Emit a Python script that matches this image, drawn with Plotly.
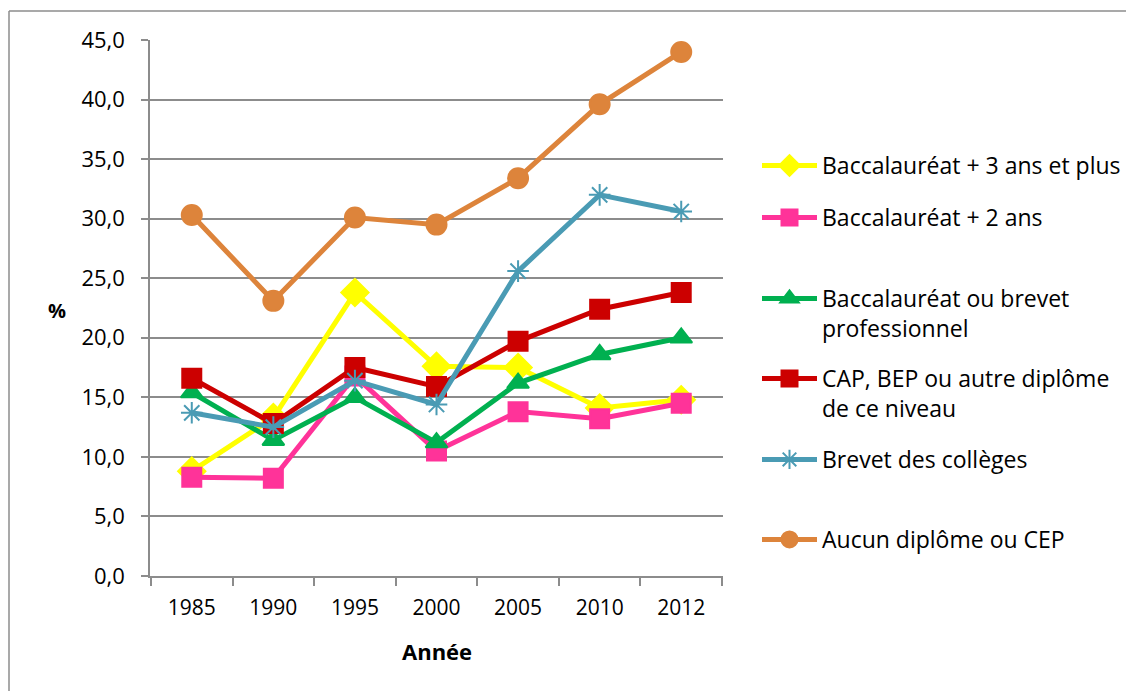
import plotly.graph_objects as go

annees = ["1985", "1990", "1995", "2000", "2005", "2010", "2012"]

bac3 = [8.8, 13.3, 23.8, 17.6, 17.5, 14.1, 14.8]
bac2 = [8.3, 8.2, 16.8, 10.5, 13.8, 13.2, 14.5]
bac_pro = [15.4, 11.4, 15.0, 11.2, 16.2, 18.6, 20.0]
cap_bep = [16.6, 12.8, 17.5, 15.9, 19.7, 22.4, 23.8]
brevet = [13.7, 12.5, 16.4, 14.4, 25.6, 32.0, 30.6]
aucun = [30.3, 23.1, 30.1, 29.5, 33.4, 39.6, 44.0]

noms = [
    "Baccalauréat + 3 ans et plus",
    "Baccalauréat + 2 ans",
    "Baccalauréat ou brevet<br>professionnel",
    "CAP, BEP ou autre diplôme<br>de ce niveau",
    "Brevet des collèges",
    "Aucun diplôme ou CEP",
]
series = [bac3, bac2, bac_pro, cap_bep, brevet, aucun]
couleurs = ["#FFFF00", "#FF3399", "#00B050", "#CC0000", "#4A9BB4", "#DD843B"]
symboles = ["diamond", "square", "triangle-up", "square", "asterisk-open", "circle"]
tailles = [21, 19, 19, 19, 18, 20]

# page offset (body margin 8px) : plot area 150..723 x 40..576 in the page
L, T = 142, 32
W, H = 1126, 683
PW, PH = 573, 536


def px_x(p):
    return (p - 150) / PW


def px_y(p):
    return (576 - p) / PH


# premier trait de chaque entrée de légende (y en pixels page)
legende_y = [166, 218, 299, 379, 460, 540]

fig = go.Figure()

for i, (nom, vals, c, s, t) in enumerate(zip(noms, series, couleurs, symboles, tailles)):
    fig.add_trace(go.Scatter(
        x=annees,
        y=vals,
        mode="lines+markers",
        name=nom,
        legend="legend" if i == 0 else f"legend{i + 1}",
        line=dict(color=c, width=5),
        marker=dict(symbol=s, size=t, color=c, line=dict(color=c, width=2)),
    ))

# cadre du graphique (haut et gauche visibles)
x0 = px_x(9)
y_top = px_y(11)
y_bot = px_y(700)
fig.add_shape(type="line", xref="paper", yref="paper", x0=x0, x1=2, y0=y_top, y1=y_top,
              line=dict(color="#8C8C8C", width=1.5))
fig.add_shape(type="line", xref="paper", yref="paper", x0=x0, x1=x0, y0=y_bot, y1=y_top,
              line=dict(color="#8C8C8C", width=1.5))

fig.add_annotation(text="<b>%</b>", xref="paper", yref="paper",
                   x=px_x(57), y=px_y(310), xanchor="center", yanchor="middle",
                   showarrow=False, font=dict(size=20, color="black"))
fig.add_annotation(text="<b>Année</b>", xref="paper", yref="paper",
                   x=0.5, y=px_y(651), xanchor="center", yanchor="middle",
                   showarrow=False, font=dict(size=22, color="black"))

legendes = {}
for i, yl in enumerate(legende_y):
    key = "legend" if i == 0 else f"legend{i + 1}"
    legendes[key] = dict(
        x=px_x(757), y=px_y(yl - 22), xanchor="left", yanchor="top",
        valign="top",
        itemwidth=55,
        bgcolor="rgba(0,0,0,0)",
        font=dict(size=23),
    )

fig.update_layout(
    width=W,
    height=H,
    showlegend=True,
    margin=dict(l=L, r=W - L - PW, t=T, b=H - T - PH, autoexpand=False),
    paper_bgcolor="white",
    plot_bgcolor="white",
    separators=", ",
    font=dict(family="'Open Sans', sans-serif", size=21, color="black"),
    xaxis=dict(
        type="category",
        showgrid=False,
        showline=True,
        linecolor="#8C8C8C",
        linewidth=1.5,
        ticks="outside",
        tickson="boundaries",
        ticklen=8,
        tickcolor="#8C8C8C",
        tickwidth=1.5,
        ticklabelstandoff=12,
        tickfont=dict(size=21),
    ),
    yaxis=dict(
        range=[0, 45],
        dtick=5,
        tickformat=".1f",
        showgrid=True,
        gridcolor="#8C8C8C",
        gridwidth=1.5,
        showline=True,
        linecolor="#8C8C8C",
        linewidth=1.5,
        ticks="outside",
        ticklen=7,
        tickcolor="#8C8C8C",
        tickwidth=1.5,
        ticklabelstandoff=12,
        tickfont=dict(size=22),
        zeroline=False,
    ),
    **legendes,
)

fig.write_html("out.html")
